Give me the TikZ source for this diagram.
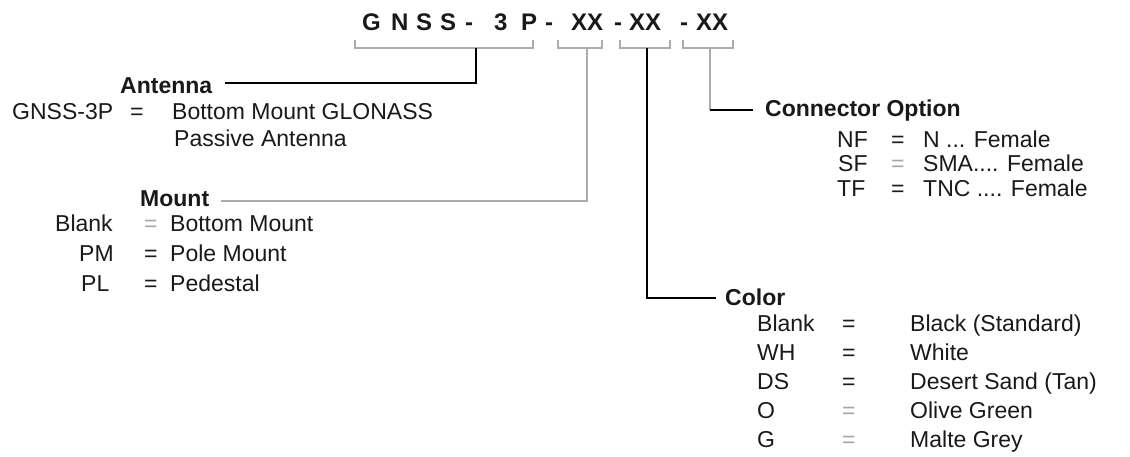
\documentclass[tikz,border=0pt]{standalone}
\usepackage{fontspec}
\setmainfont{Liberation Sans}
\usetikzlibrary{arrows.meta,calc,positioning}

\begin{document}
\begin{tikzpicture}[x=1pt,y=-1pt]
    \tikzstyle{txt}=[anchor=base west,inner sep=0pt,text=black!90,font=\fontsize{23}{27}\selectfont]
    \tikzstyle{head}=[txt,font=\fontsize{23}{27}\selectfont\bfseries]
    \tikzstyle{ttl}=[txt,font=\fontsize{24}{28}\selectfont\bfseries]
    \tikzstyle{eqg}=[txt,text=gray!70]
    \tikzstyle{blk}=[line width=1.6pt]
    \tikzstyle{gry}=[line width=2.4pt,gray!65]
    \useasboundingbox (0,0) rectangle (1130,456);
    % part number
    \foreach \ch/\x [count=\i] in {G/362,N/391,S/416,S/440,-/465,3/494,P/521,-/545,XX/571,-/614,XX/629,-/680,XX/696}
      \node[ttl] (t\i) at (\x,30) {\ch};
    \draw[gry] (355,40) -- (355,48) -- (533,48) -- (533,40);
    \draw[gry] (558,40) -- (558,48) -- (602,48) -- (602,40);
    \draw[gry] (620,40) -- (620,48) -- (670,48) -- (670,40);
    \draw[gry] (683,40) -- (683,48) -- (733,48) -- (733,40);
    \coordinate (b1) at (476,48);
    \coordinate (b2) at (587,48);
    \coordinate (b3) at (647,48);
    \coordinate (b4) at (710,48);
    % antenna
    \node[head] (antenna) at (120,93) {Antenna};
    \node[txt] (gnss) at (12,119) {GNSS-3P};
    \node[txt] (gnsseq) at (130,119) {=};
    \node[txt] (gnssval) at (172,119) {Bottom Mount GLONASS};
    \node[txt] (gnssval2) at (174,146) {Passive Antenna};
    % mount
    \node[head] (mount) at (140,206) {Mount};
    \node[txt] (mb) at (55,231) {Blank};
    \node[eqg] (mbeq) at (144,231) {=};
    \node[txt] (mbval) at (170,231) {Bottom Mount};
    \node[txt] (pm) at (79,261) {PM};
    \node[txt] (pmeq) at (144,261) {=};
    \node[txt] (pmval) at (170,261) {Pole Mount};
    \node[txt] (pl) at (81,291) {PL};
    \node[txt] (pleq) at (144,291) {=};
    \node[txt] (plval) at (170,291) {Pedestal};
    % connector
    \node[head] (conn) at (765,116) {Connector Option};
    \node[txt] (nf) at (837,147) {NF};
    \node[txt] (nfeq) at (891,147) {=};
    \node[txt] (nfval) at (923,147) {N ... Female};
    \node[txt] (sf) at (838,171) {SF};
    \node[eqg] (sfeq) at (891,171) {=};
    \node[txt] (sfval) at (923,171) {SMA.... Female};
    \node[txt] (tf) at (837,196) {TF};
    \node[txt] (tfeq) at (891,196) {=};
    \node[txt] (tfval) at (923,196) {TNC .... Female};
    % color
    \node[head] (color) at (725,305) {Color};
    \node[txt] (cb) at (757,331) {Blank};
    \node[txt] (cbeq) at (842,331) {=};
    \node[txt] (cbval) at (910,331) {Black (Standard)};
    \node[txt] (wh) at (757,360) {WH};
    \node[txt] (wheq) at (842,360) {=};
    \node[txt] (whval) at (910,360) {White};
    \node[txt] (ds) at (757,389) {DS};
    \node[txt] (dseq) at (842,389) {=};
    \node[txt] (dsval) at (910,389) {Desert Sand (Tan)};
    \node[txt] (o) at (757,418) {O};
    \node[eqg] (oeq) at (842,418) {=};
    \node[txt] (oval) at (910,418) {Olive Green};
    \node[txt] (g) at (757,447) {G};
    \node[eqg] (geq) at (842,447) {=};
    \node[txt] (gval) at (910,447) {Malte Grey};
    % leaders
    \draw[blk] (b1) |- ([xshift=13pt,yshift=2pt]antenna.east);
    \draw[gry] (b2) |- ([xshift=12pt,yshift=-3pt]mount.east);
    \draw[blk] (b3) |- ([xshift=-9pt,yshift=-1pt]color.west);
    \draw[gry] (b4) -- ($(b4)!(conn.west)!(710,200)$);
    \draw[blk] ($(b4)!(conn.west)!(710,200)$) -- ([xshift=-12pt]conn.west);
\end{tikzpicture}
\end{document}
